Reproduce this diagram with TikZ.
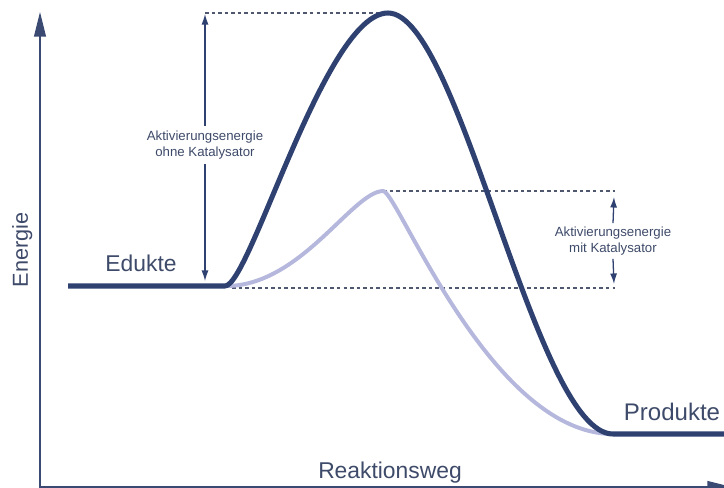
\documentclass[tikz,border=0pt]{standalone}
\usepackage{fontspec}
\setmainfont{Liberation Sans}
\usetikzlibrary{positioning,arrows.meta}
\definecolor{curvenavy}{RGB}{46, 65, 112}
\definecolor{curvelilac}{RGB}{181, 184, 220}
\definecolor{labelgrey}{RGB}{62, 74, 105}
\definecolor{guidegrey}{RGB}{80, 88, 112}
\definecolor{axisblue}{RGB}{58, 74, 114}

\begin{document}
\begin{tikzpicture}[x=0.03cm, y=-0.03cm, text=labelgrey,
  bigtext/.style={font=\fontsize{19.5}{23}\selectfont},
  smalltext/.style={font=\fontsize{11.3}{13.6}\selectfont, align=center, inner sep=4pt},
  energycurve/.style={line width=4.3pt, curvenavy, line join=round},
  catcurve/.style={line width=3.4pt, curvelilac, line join=round},
  guide/.style={guidegrey, line width=1.1pt, dash pattern=on 3pt off 2.6pt},
  dimarrow/.style={-{Latex[length=9pt,width=6pt]}, line width=1.1pt, curvenavy},
  axis/.style={-{Triangle[length=21pt,width=10pt]}, line width=1.7pt, axisblue}]
\useasboundingbox (0,0) rectangle (724,488);
\clip (0,0) rectangle (724,488);

% axes
\coordinate (origin) at (40,488);
\coordinate (ytip) at (40,12);
\coordinate (xtip) at (732,487);
\draw[axis] (origin) -- (ytip);
\draw[axis] (40,487) -- (xtip);

% levels and peaks
\coordinate (edstart) at (68,286);
\coordinate (edend) at (225,286);
\coordinate (peakA) at (388,13);
\coordinate (peakB) at (383,191);
\coordinate (prstart) at (613,434);
\coordinate (prend) at (730,434);

% guide lines
\draw[guide] (205,13) -- (peakA);
\draw[guide] (peakB) -- (615,191);
\draw[guide] (232,288) -- (615,288);

% curves
\draw[catcurve] (edend) .. controls (300,287) and (352,192) .. (peakB)
  .. controls (397,190) and (490,434) .. (prstart);
\draw[energycurve] (edstart) -- (edend) .. controls (250,286) and (325,13) .. (peakA)
  .. controls (460,13) and (535,434) .. (prstart) -- (prend);

% activation energy without catalyst
\node[smalltext] (ohne) at (205,145) {Aktivierungsenergie\\ohne Katalysator};
\coordinate (ohnetop) at (205,14);
\coordinate (ohnebot) at (205,281);
\draw[dimarrow] (ohne.north) -- (ohnetop);
\draw[dimarrow] (ohne.south) -- (ohnebot);

% activation energy with catalyst
\node[smalltext, inner sep=3pt] (mit) at (613,241) {Aktivierungsenergie\\mit Katalysator};
\coordinate (mittop) at (614,197);
\coordinate (mitbot) at (614,284);
\draw[dimarrow] (mit.north) -- (mittop);
\draw[dimarrow] (mit.south) -- (mitbot);

% labels
\node[bigtext, anchor=base] (edukte) at (141,272) {Edukte};
\node[bigtext, anchor=base, font=\fontsize{20.5}{24}\selectfont] (produkte) at (672,420) {Produkte};
\node[bigtext, anchor=base] (weg) at (390,478) {Reaktionsweg};
\node[bigtext, anchor=base, rotate=90, font=\fontsize{18.5}{22}\selectfont] (energie) at (28,250) {Energie};
\end{tikzpicture}
\end{document}
